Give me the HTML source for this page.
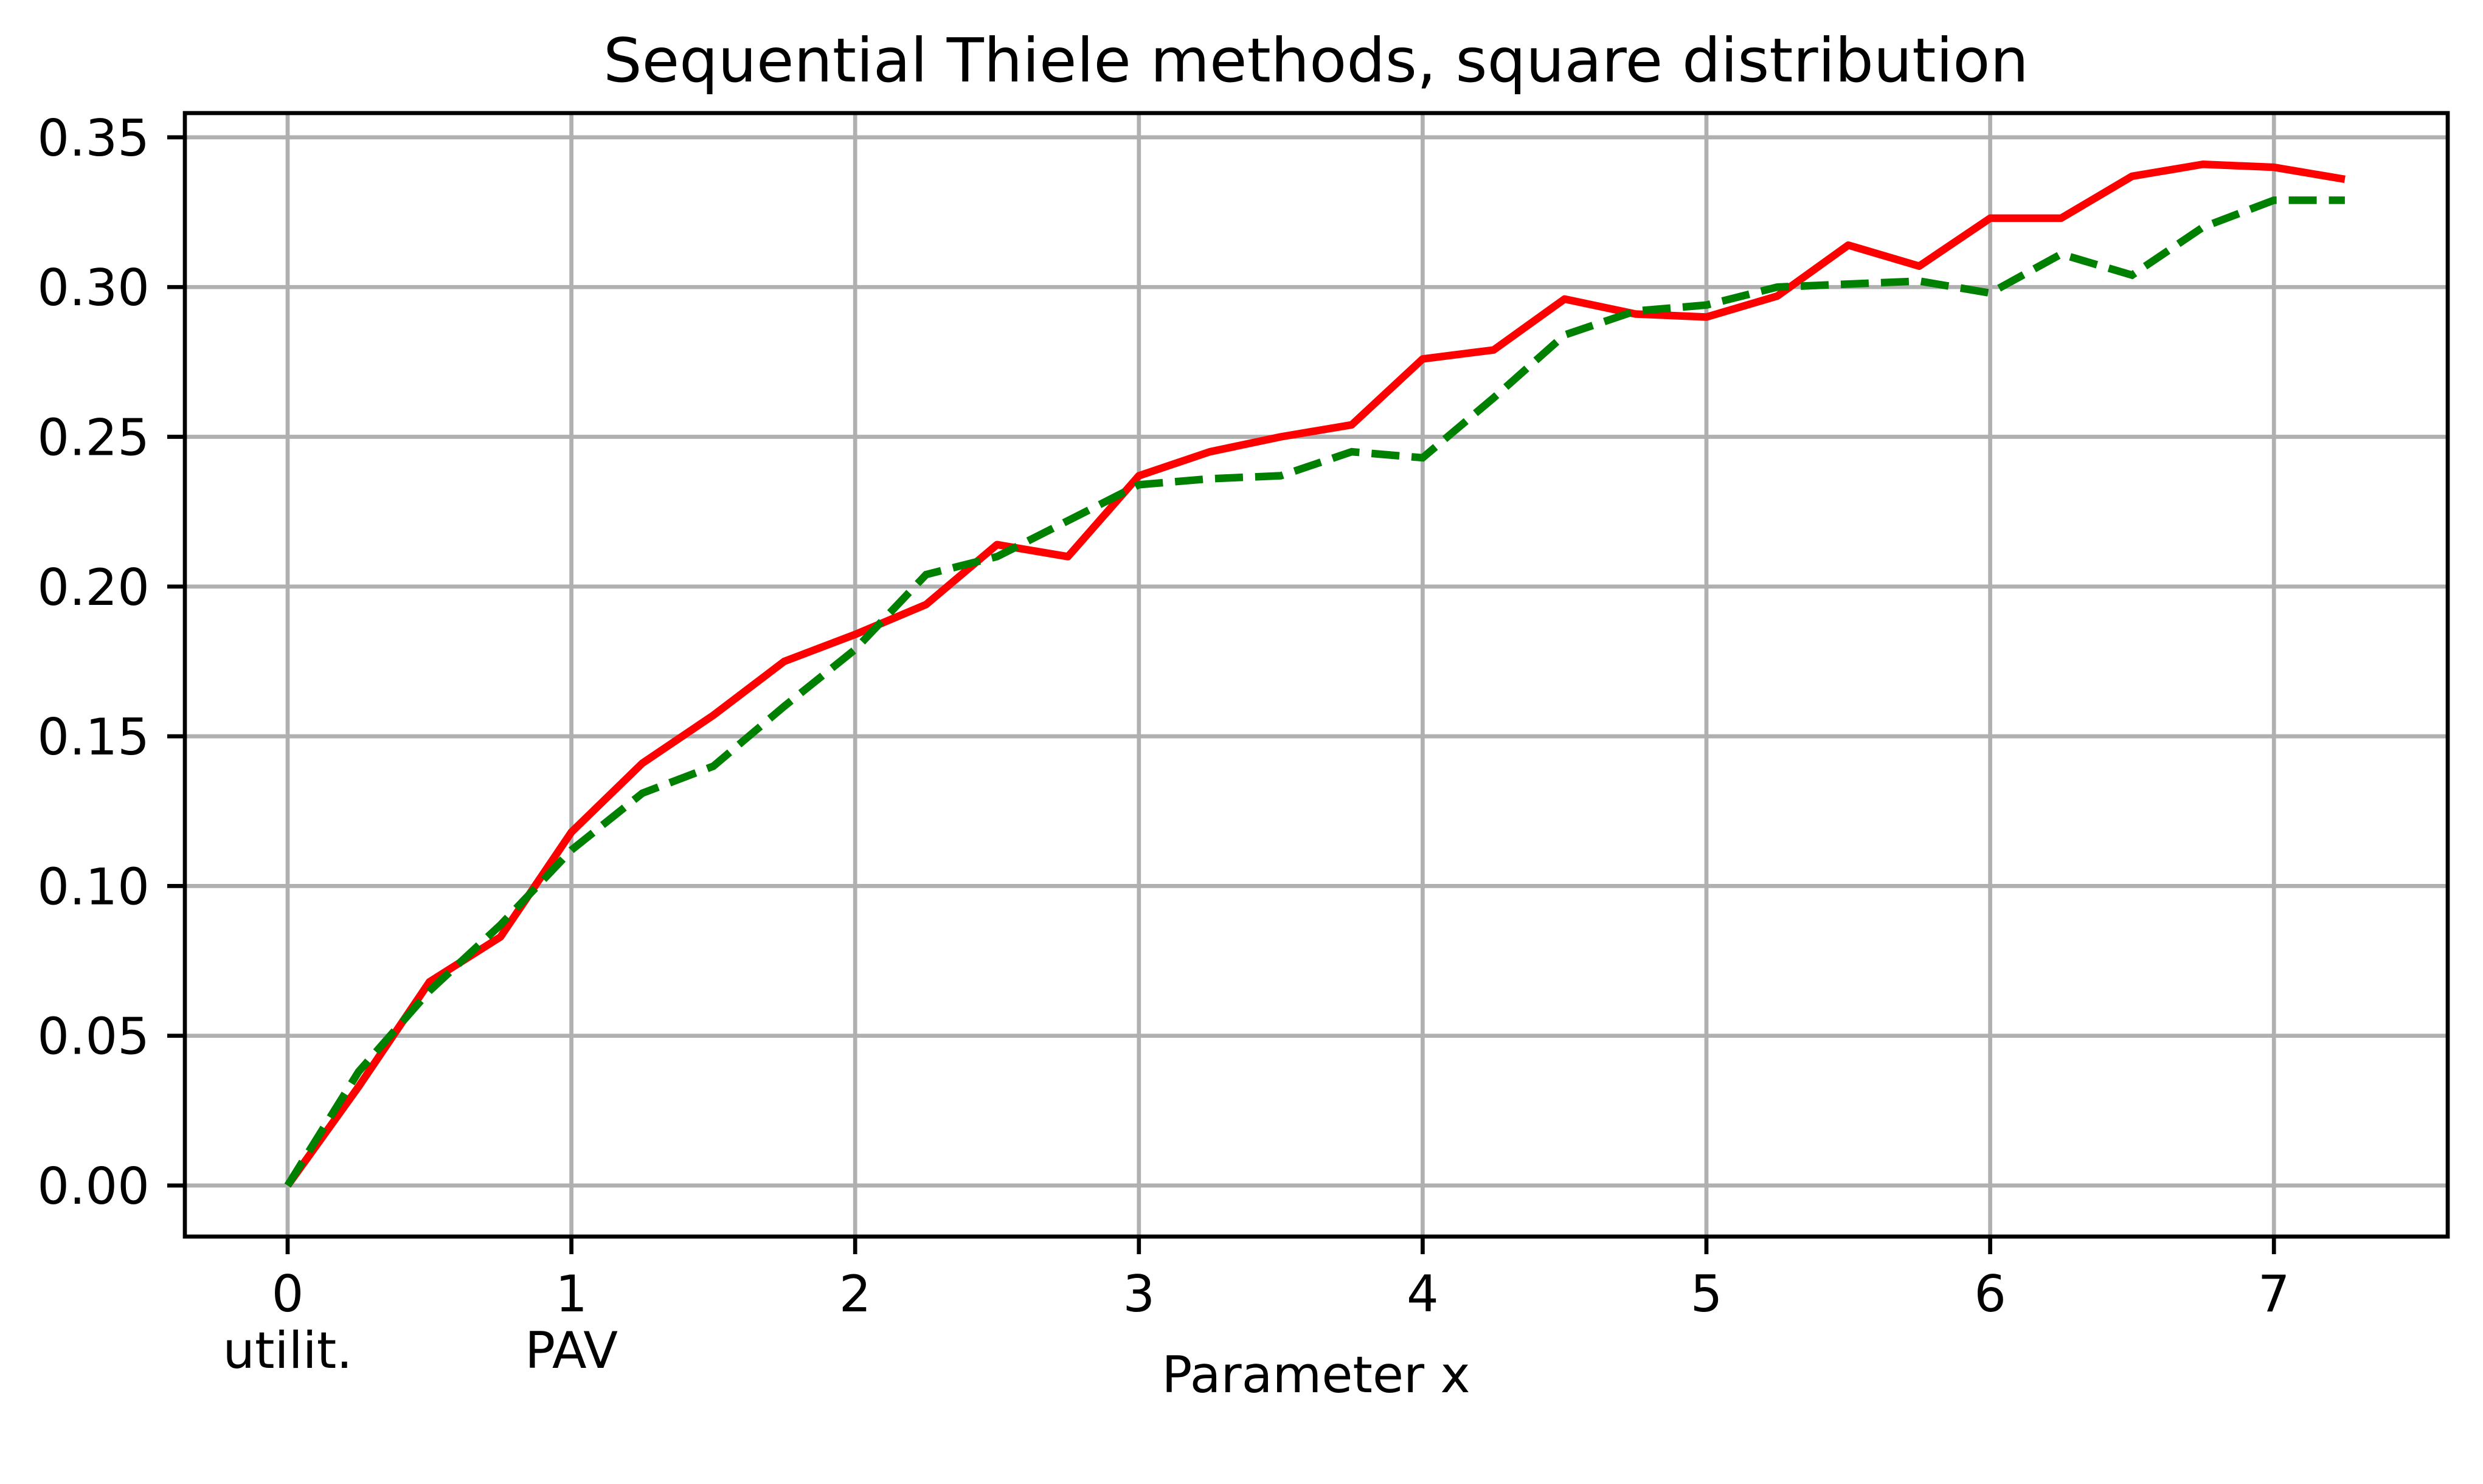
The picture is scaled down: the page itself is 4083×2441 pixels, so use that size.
<!DOCTYPE html>
<html><head><meta charset="utf-8"><style>
html,body{margin:0;padding:0;background:#fff;}
svg{display:block;font-family:"DejaVu Sans","Liberation Sans",sans-serif;}
</style></head><body>
<svg id="chart" width="4083" height="2441" viewBox="0 0 4083 2441" xmlns="http://www.w3.org/2000/svg">
<rect width="4083" height="2441" fill="#fff"/>
<text x="2164" y="134" font-size="100" text-anchor="middle">Sequential Thiele methods, square distribution</text>
<g id="grid"></g>
<g id="series"></g>
<rect x="304" y="186" width="3721" height="1848" fill="none" stroke="#000" stroke-width="6.7"/>
<g id="ticks"></g>
<text x="2164" y="2290" font-size="83" text-anchor="middle">Parameter x</text>
</svg>
<script>
const xValues = [0,0.25,0.5,0.75,1,1.25,1.5,1.75,2,2.25,2.5,2.75,3,3.25,3.5,3.75,4,4.25,4.5,4.75,5,5.25,5.5,5.75,6,6.25,6.5,6.75,7,7.25];
const redSeries = [0,0.033,0.068,0.083,0.118,0.141,0.157,0.175,0.184,0.194,0.214,0.210,0.237,0.245,0.250,0.254,0.276,0.279,0.296,0.291,0.290,0.297,0.314,0.307,0.323,0.323,0.337,0.341,0.340,0.336];
const greenSeries = [0,0.038,0.065,0.087,0.112,0.131,0.140,0.160,0.179,0.204,0.210,0.222,0.234,0.236,0.237,0.245,0.243,0.263,0.284,0.292,0.294,0.300,0.301,0.302,0.298,0.311,0.304,0.320,0.329,0.329];
const xTicks = [0,1,2,3,4,5,6,7];
const xTickSub = ["utilit.","PAV","","","","","",""];
const yTicks = [0,0.05,0.10,0.15,0.20,0.25,0.30,0.35];
const yTickLabels = ["0.00","0.05","0.10","0.15","0.20","0.25","0.30","0.35"];

const NS = "http://www.w3.org/2000/svg";
const X0 = 473, XU = 466.6, Y0 = 1950, YU = 4926;
const L = 304, R = 4025, T = 186, B = 2034;
function sx(v){ return X0 + v*XU; }
function sy(v){ return Y0 - v*YU; }
function mk(tag, attrs, parent){
  const e = document.createElementNS(NS, tag);
  for (const k in attrs) e.setAttribute(k, attrs[k]);
  parent.appendChild(e);
  return e;
}
const grid = document.getElementById('grid');
const ticks = document.getElementById('ticks');
const series = document.getElementById('series');

xTicks.forEach((t,i)=>{
  const g = mk('line',{x1:sx(t),x2:sx(t),y1:T,y2:B,stroke:'#b0b0b0','stroke-width':6.7},grid);
  
  
  const tk = mk('line',{x1:sx(t),x2:sx(t),y1:B,y2:B+29,stroke:'#000','stroke-width':6.7},ticks);
  
  
  const lb = mk('text',{x:sx(t),y:2157,'font-size':83,'text-anchor':'middle'},ticks);
  lb.textContent = String(t);
  
  
  if (xTickSub[i]) {
    const s = mk('text',{x:sx(t),y:2250,'font-size':83,'text-anchor':'middle'},ticks);
    s.textContent = xTickSub[i];
    
    
  }
});
yTicks.forEach((t,i)=>{
  const g = mk('line',{x1:L,x2:R,y1:sy(t),y2:sy(t),stroke:'#b0b0b0','stroke-width':6.7},grid);
  
  
  const tk = mk('line',{x1:L-29,x2:L,y1:sy(t),y2:sy(t),stroke:'#000','stroke-width':6.7},ticks);
  
  
  const lb = mk('text',{x:246,y:sy(t)+30,'font-size':83,'text-anchor':'end'},ticks);
  lb.textContent = yTickLabels[i];
  
  
});
function pts(arr){ return arr.map((v,i)=>sx(xValues[i])+','+sy(v)).join(' '); }
const red = mk('polyline',{points:pts(redSeries),fill:'none',stroke:'#ff0000','stroke-width':12.5,'stroke-linejoin':'round'},series);


const green = mk('polyline',{points:pts(greenSeries),fill:'none',stroke:'#008000','stroke-width':12.5,'stroke-dasharray':'46 20'},series);


</script>
</body></html>
